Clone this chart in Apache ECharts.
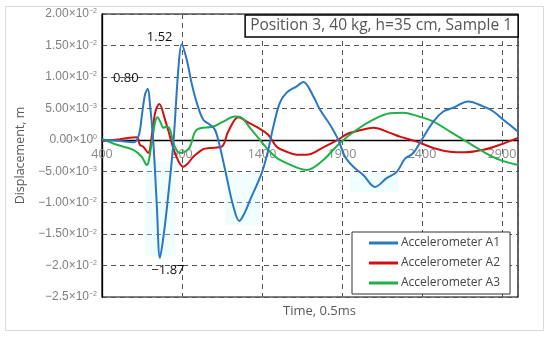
<!DOCTYPE html>
<html><head><meta charset="utf-8">
<script src="https://cdn.jsdelivr.net/npm/echarts@6/dist/echarts.min.js"></script>
<style>html,body{margin:0;padding:0;background:#fff}#c{width:550px;height:337px}</style>
</head><body><div id="c"></div>
<script>
// ---- data (time in units of 0.5 ms, displacement in m) ----
const chartTitle = "Position 3, 40 kg, h=35 cm, Sample 1";
const xAxisTitle = "Time, 0.5ms";
const yAxisTitle = "Displacement, m";
const seriesNames = ["Accelerometer A1", "Accelerometer A2", "Accelerometer A3"];
const xTickLabels = ["400", "900", "1400", "1900", "2400", "2900"];
const yTickMantissa = ["\u22122.5", "\u22122.0", "\u22121.50", "\u22121.00", "\u22125.00", "0.00", "5.00", "1.00", "1.50", "2.00"];
const yTickExponent = ["\u22122", "\u22122", "\u22122", "\u22122", "\u22123", "0", "\u22123", "\u22122", "\u22122", "\u22122"];

const a1Time = [400,500,600,631,650,669,686,700,721,742,762,781,804,846,877,898,929,962,992,1033,1075,1106,1137,1179,1219,1258,1294,1325,1398,1439,1471,1512,1554,1617,1658,1721,1762,1825,1877,1919,1971,2033,2106,2179,2242,2294,2346,2398,2471,2533,2596,2689,2783,2846,2908,3000];
const a1Value = [0,-0.00016,-0.0004,0.0008,0.004,0.0072,0.0081,0.0056,-0.0005,-0.0101,-0.0188,-0.016,-0.0112,-0.0005,0.0112,0.0152,0.0128,0.0088,0.0059,0.0032,0.0024,0.0016,-0.0011,-0.0059,-0.0104,-0.0129,-0.0115,-0.0096,-0.0053,-0.0016,0.0021,0.0059,0.0075,0.0085,0.0092,0.0069,0.0048,0.0024,0,-0.0027,-0.0043,-0.0056,-0.0075,-0.0061,-0.0051,-0.003,-0.0021,0,0.0029,0.0045,0.0051,0.0061,0.0053,0.0045,0.0032,0.0013];

const a2Time = [400,512,617,637,658,689,712,734,758,794,825,856,908,939,971,1033,1075,1148,1189,1252,1304,1377,1439,1492,1554,1627,1679,1783,1867,1939,2012,2096,2200,2262,2367,2471,2575,2669,2783,2887,3000];
const a2Value = [-0.0002,0.0001,0.0004,-0.0008,-0.0011,-0.0021,0.0008,0.0045,0.0057,0.0032,0.0005,-0.0021,-0.0043,-0.0037,-0.0027,-0.0015,-0.0013,-0.0011,0.0013,0.0036,0.0029,0.0019,0.0008,-0.0011,-0.0019,-0.0024,-0.0024,-0.0012,-0.0001,0.001,0.0015,0.0019,0.0011,0.0005,-0.0003,-0.0013,-0.0019,-0.002,-0.0016,-0.0008,0.0003];

const a3Time = [400,492,596,648,679,711,731,746,767,783,804,825,850,887,919,950,992,1096,1158,1231,1273,1325,1387,1450,1512,1627,1679,1783,1887,1992,2096,2200,2283,2367,2471,2575,2679,2783,2887,3000];
const a3Value = [0.0001,-0.0008,-0.0016,-0.0027,-0.004,-0.0005,0.0027,0.0036,0.0027,0.0019,0.0021,0.0016,-0.0008,-0.0021,-0.0019,-0.0011,0.0016,0.0021,0.0029,0.0037,0.0035,0.0019,0,-0.0019,-0.0032,-0.0045,-0.0048,-0.0032,-0.0005,0.0016,0.0032,0.0042,0.0043,0.0038,0.0029,0.0013,-0.0003,-0.0019,-0.0032,-0.004];

const annoTime = [898, 686, 762];
const annoValue = [0.0152, 0.0081, -0.0188];
const annoText = ["1.52", "0.80", "\u22121.87"];

const highlightTime = [[669, 862], [1170, 1390], [1950, 2250]];
const highlightValue = [[-0.0035, -0.0185], [-0.0055, -0.0135], [-0.0055, -0.0083]];

// ---- chart ----
const T0 = 400, T1 = 3000, XI = 500;
const Y0 = -0.025, Y1 = 0.02, YI = 0.005;
const colors = ["#2a78c2", "#d01010", "#20b04a"];
const pair = (ts, vs) => ts.map((t, i) => [t - T0, vs[i]]);

const chart = echarts.init(document.getElementById('c'), null, {renderer: 'canvas'});
const gridDash = {color: '#555', type: [5, 4], width: 1};
const gridTop = 14, gridBottom = 40, plotH = 337 - gridTop - gridBottom;
// offset that places the x axis (line + labels) on the zero line of the y scale
const zeroOffset = -Math.round((0 - Y0) / (Y1 - Y0) * plotH);

const option = {
  animation: false,
  backgroundColor: '#fff',
  graphic: [
    {type: 'rect', shape: {x: 5.5, y: 6.5, width: 538, height: 324}, style: {fill: 'none', stroke: '#d9d9d9', lineWidth: 1}, z: -1},
    {type: 'text', left: 283, top: 305, style: {text: xAxisTitle, fontFamily: 'Open Sans', fontSize: 13, fill: '#595959'}}
  ],
  title: {
    text: chartTitle, right: 32, top: 15,
    padding: [3, 6, 3, 5], borderColor: '#000', borderWidth: 1.5, backgroundColor: '#fff',
    textStyle: {fontFamily: 'Open Sans', fontSize: 15.5, fontWeight: 'normal', color: '#555'}
  },
  legend: {
    data: seriesNames, orient: 'vertical', left: 352, top: 232, width: 160,
    padding: [4, 10, 4, 17], itemGap: 6, itemWidth: 29, itemHeight: 3, icon: 'rect',
    borderColor: '#333', borderWidth: 1, backgroundColor: '#fff',
    textStyle: {fontFamily: 'Open Sans', fontSize: 12, color: '#444', lineHeight: 14, padding: [0, 0, 0, -2]}
  },
  grid: {left: 102, right: 32, top: gridTop, bottom: gridBottom, show: true, borderColor: '#000', borderWidth: 1.2},
  xAxis: {
    type: 'value', min: 0, max: T1 - T0, interval: XI, position: 'bottom', offset: zeroOffset,
    axisLine: {onZero: false, lineStyle: {color: '#000', width: 1.3}},
    axisTick: {show: false},
    axisLabel: {margin: 8, color: '#8a8a8a', fontFamily: 'Open Sans', fontSize: 12.5, formatter: v => xTickLabels[Math.round(v / XI)] || ''},
    splitLine: {show: true, lineStyle: gridDash}
  },
  yAxis: {
    type: 'value', min: Y0, max: Y1, interval: YI,
    axisLine: {show: true, onZero: false, lineStyle: {color: '#000', width: 1.3}},
    axisTick: {show: false},
    axisLabel: {
      margin: 5, color: '#7f7f7f', fontFamily: 'Liberation Sans', fontSize: 12,
      formatter: v => { const i = Math.round((v - Y0) / YI); return '{m|' + yTickMantissa[i] + '\u00d710}{e|' + yTickExponent[i] + '}'; },
      rich: {
        m: {fontFamily: 'Liberation Sans', fontSize: 12, color: '#7f7f7f'},
        e: {fontFamily: 'Liberation Sans', fontSize: 7, color: '#7f7f7f', verticalAlign: 'top', padding: [0, 0, 4, 0]}
      }
    },
    splitLine: {show: true, lineStyle: gridDash},
    name: yAxisTitle, nameLocation: 'middle', nameGap: 74,
    nameTextStyle: {fontFamily: 'Open Sans', fontSize: 12.5, color: '#595959'}
  },
  series: [
    {
      name: seriesNames[0], type: 'line', data: pair(a1Time, a1Value), smooth: 0.35, showSymbol: false,
      lineStyle: {color: colors[0], width: 2}, itemStyle: {color: colors[0]}, z: 3,
      markArea: {silent: true, itemStyle: {color: 'rgba(205,247,251,0.3)'},
        data: highlightTime.map((r, i) => [{coord: [r[0] - T0, highlightValue[i][0]]}, {coord: [r[1] - T0, highlightValue[i][1]]}])},
      markPoint: {
        symbol: 'circle', symbolSize: 0, silent: true,
        data: annoTime.map((t, i) => ({coord: [t - T0, annoValue[i]], value: annoText[i],
          label: {offset: [[-22, -7], [-22, -11], [8, 12]][i]}})),
        label: {show: true, formatter: p => p.value, color: '#111', fontFamily: 'Open Sans', fontSize: 13}
      }
    },
    {name: seriesNames[1], type: 'line', data: pair(a2Time, a2Value), smooth: 0.35, showSymbol: false,
      lineStyle: {color: colors[1], width: 2}, itemStyle: {color: colors[1]}, z: 2},
    {name: seriesNames[2], type: 'line', data: pair(a3Time, a3Value), smooth: 0.35, showSymbol: false,
      lineStyle: {color: colors[2], width: 2}, itemStyle: {color: colors[2]}, z: 2}
  ]
};
chart.setOption(option);
</script></body></html>
